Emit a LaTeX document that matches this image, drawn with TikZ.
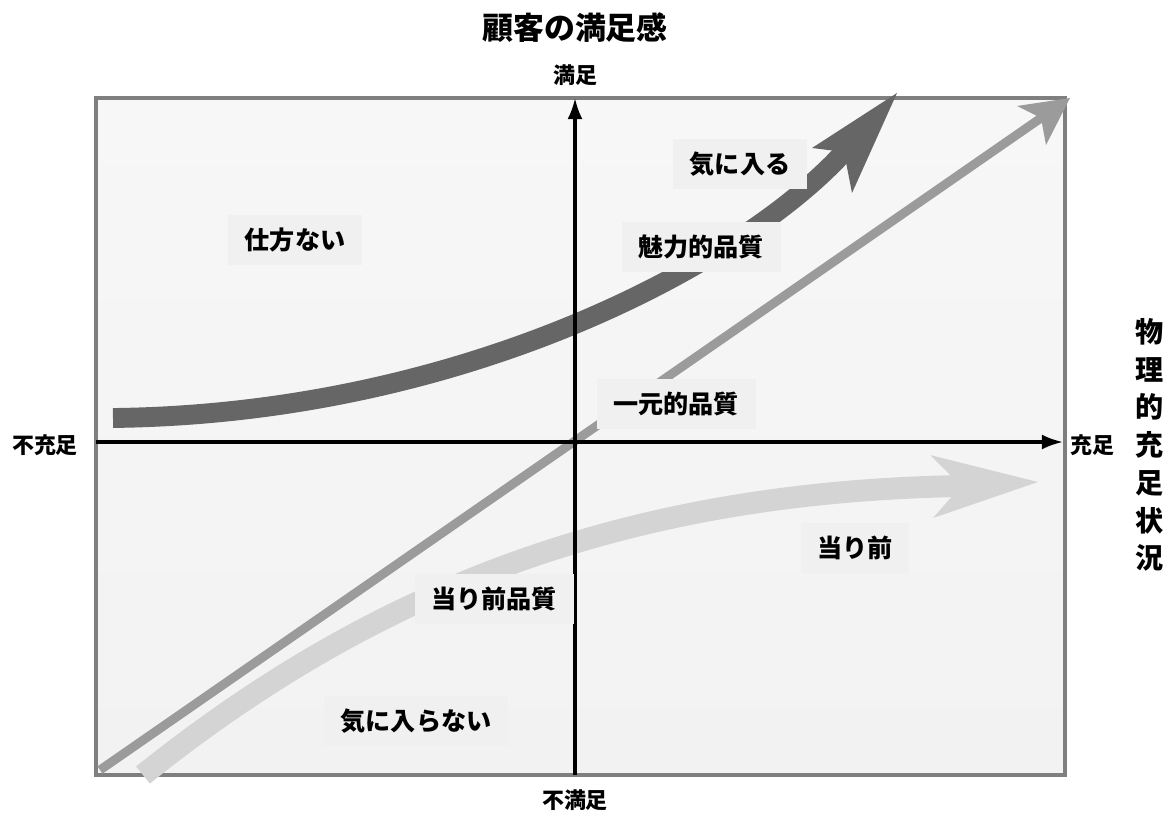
\documentclass[tikz,border=0pt]{standalone}
\usepackage{fontspec}
\setmainfont{Noto Sans CJK JP}
\usetikzlibrary{arrows.meta}
\definecolor{boxgray}{HTML}{F0F0F0}
\definecolor{bgtop}{HTML}{F7F7F7}
\definecolor{bgbot}{HTML}{F2F2F2}
\definecolor{framegray}{HTML}{7F7F7F}
\definecolor{darkc}{HTML}{666666}
\definecolor{midc}{HTML}{9B9B9B}
\definecolor{lightc}{HTML}{D4D4D4}
\begin{document}
\begin{tikzpicture}[x=0.02cm,y=-0.02cm,
  lbl/.style={fill=boxgray, inner xsep=9.5pt, inner ysep=0pt, minimum height=29pt,
    font=\bfseries\fontsize{14.3pt}{16pt}\selectfont, text=black},
  axlbl/.style={inner sep=0pt, font=\bfseries\fontsize{12.5pt}{14pt}\selectfont},
  axisline/.style={line width=1.8pt, black, -{Latex[length=12pt,width=8.5pt]}},
  darkband/.style={line width=11.3pt, darkc},
  midband/.style={line width=5.1pt, midc},
  lightband/.style={line width=12.5pt, lightc}]
% canvas
\path[fill=white,use as bounding box] (0,0) rectangle (1172,814);
% frame
\shade[top color=bgtop,bottom color=bgbot] (96,98) rectangle (1065,775);
\draw[framegray,line width=2.3pt] (96,98) rectangle (1065,775);
% light band (当り前品質)
\coordinate (l0) at (143,775);
\coordinate (l1) at (380,585);
\coordinate (l2) at (632,492);
\coordinate (l3) at (961,486);
\coordinate (lT) at (1038,482);
\coordinate (lU) at (930,455);
\coordinate (lD) at (933,518);
\draw[lightband] (l0) .. controls (l1) and (l2) .. (l3);
\fill[lightc] (lT) -- (lU) -- (l3) -- (lD) -- cycle;
% middle band (一元的品質)
\coordinate (m0) at (100,770);
\coordinate (m3) at (1041,118);
\coordinate (mT) at (1070,98);
\coordinate (mL) at (1017,106);
\coordinate (mR) at (1046,145);
\draw[midband] (m0) -- (m3);
\fill[midc] (mT) -- (mL) -- (m3) -- (mR) -- cycle;
% dark band (魅力的品質)
\coordinate (d0) at (113,418);
\coordinate (d1) at (463,414);
\coordinate (d2) at (742,264);
\coordinate (d3) at (844,152);
\coordinate (dT) at (897,93);
\coordinate (dL) at (812,148);
\coordinate (dR) at (852,193);
\draw[darkband] (d0) .. controls (d1) and (d2) .. (d3);
\fill[darkc] (dT) -- (dL) -- (d3) -- (dR) -- cycle;
% axes
\coordinate (vb) at (575,775);
\coordinate (vt) at (575,98);
\coordinate (hl) at (96,442);
\coordinate (hr) at (1063,442);
\draw[axisline] (vb) -- (vt);
\draw[axisline] (hl) -- (hr);
% label boxes
\node[lbl] (shikata) at (295,240) {仕方ない};
\node[lbl] (miryoku) at (701,247) {魅力的品質};
\node[lbl] (kiniiru) at (740,164) {気に入る};
\node[lbl] (ichigen) at (676,404) {一元的品質};
\node[lbl] (atarihin) at (494,599) {当り前品質};
\node[lbl] (atari) at (855,548) {当り前};
\node[lbl] (kiniiranai) at (416,721) {気に入らない};
% axis labels
\node[axlbl] (manzoku) at (575,75) {満足};
\node[axlbl] (fuman) at (575,800) {不満足};
\node[axlbl] (fujuu) at (45,445) {不充足};
\node[axlbl] (juu) at (1092,445) {充足};
\node[inner sep=0pt, font=\bfseries\fontsize{17.6pt}{20pt}\selectfont] (title) at (575,28) {顧客の満足感};
\node[inner sep=0pt, align=center, font=\bfseries\fontsize{16pt}{21.5pt}\selectfont] (side) at (1150,445) {物\\理\\的\\充\\足\\状\\況};
\end{tikzpicture}
\end{document}
